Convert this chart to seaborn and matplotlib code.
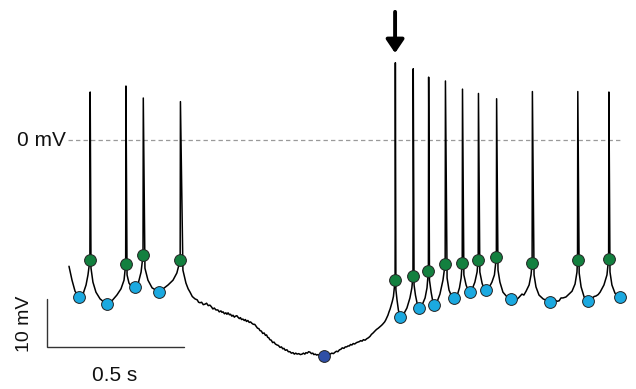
import matplotlib
matplotlib.use("Agg")
import matplotlib.pyplot as plt
import pandas as pd
import seaborn as sns

# ---- recorded membrane potential (time in ms, voltage in mV) ----
# spike thresholds (green), spike peaks, AHP troughs (light blue), deepest point (dark blue)
thr_t = [76, 206, 269, 404, 1185, 1250, 1306, 1367, 1429, 1487, 1553, 1683, 1848, 1961]
thr_v = [-25.0, -25.9, -24.0, -25.0, -29.2, -28.3, -27.3, -25.8, -25.6, -24.9, -24.4, -25.6, -24.9, -24.7]
peak_v = [10.0, 11.25, 8.75, 8.0, 16.1, 14.85, 13.1, 12.3, 10.6, 9.7, 8.6, 10.1, 10.1, 10.0]
trough_t = [36, 137, 241, 326, 1203, 1271, 1325, 1400, 1456, 1515, 1606, 1748, 1886, 2002]
trough_v = [-32.7, -34.2, -30.6, -31.6, -36.9, -34.9, -34.3, -32.9, -31.6, -31.3, -33.1, -33.75, -33.6, -32.8]
min_t = [928]
min_v = [-45.0]

# subthreshold trace between spikes
seg_t = [
    [0, 11, 22, 36, 51, 62, 69],
    [80, 87, 98, 113, 137, 156, 174, 189, 200],
    [211, 218, 225, 241, 251, 262],
    [276, 287, 302, 326, 342, 360, 378, 392],
    [414, 425, 433, 440, 448, 458, 466, 471, 476, 482, 488, 494, 500, 506, 512, 517,
     523, 528, 534, 541, 546, 552, 556, 560, 565, 570, 574, 578, 583, 587, 592, 596,
     601, 605, 610, 614, 619, 623, 627, 632, 637, 641, 645, 650, 655, 660, 665, 670,
     675, 680, 685, 690, 694, 699, 704, 709, 714, 718, 722, 726, 730, 735, 740, 745,
     750, 756, 761, 767, 772, 777, 781, 786, 792, 797, 803, 808, 814, 819, 824, 829,
     835, 841, 847, 852, 857, 861, 866, 871, 876, 881, 886, 890, 895, 900, 905, 911,
     916, 922, 928, 934, 940, 945, 949, 955, 961, 967, 972, 977, 983, 988, 993, 999,
     1004, 1009, 1014, 1019, 1023, 1028, 1033, 1038, 1045, 1050, 1055, 1060, 1065, 1070,
     1076, 1082, 1088, 1094, 1099, 1105, 1110, 1115, 1119, 1124, 1130, 1136, 1141, 1147,
     1151, 1155, 1159, 1163, 1167, 1170, 1175, 1179, 1182],
    [1188, 1192, 1197, 1203, 1214, 1228, 1239, 1246],
    [1254, 1259, 1265, 1271, 1283, 1294, 1301],
    [1310, 1316, 1321, 1325, 1337, 1348, 1359],
    [1374, 1381, 1390, 1400, 1410, 1419, 1425],
    [1435, 1443, 1450, 1456, 1464, 1475, 1483],
    [1493, 1501, 1508, 1515, 1526, 1537, 1546],
    [1559, 1566, 1577, 1592, 1606, 1621, 1628, 1635, 1646, 1653, 1661, 1672, 1679],
    [1690, 1697, 1708, 1723, 1748, 1757, 1766, 1773, 1781, 1788, 1795, 1806, 1817, 1828, 1839, 1846],
    [1854, 1861, 1872, 1886, 1894, 1901, 1908, 1915, 1923, 1930, 1944, 1955],
    [1966, 1973, 1984, 2002],
]
seg_v = [
    [-26.3, -29.2, -31.5, -32.7, -32.1, -30.2, -28.1],
    [-26.7, -29.6, -31.7, -33.1, -34.2, -33.5, -32.3, -31.0, -29.2],
    [-28.1, -29.8, -30.4, -30.6, -30.0, -27.5],
    [-26.7, -29.2, -30.8, -31.6, -31.0, -30.2, -29.2, -27.7],
    [-27.1, -29.8, -31.0, -31.7, -32.6, -33.1, -33.3, -33.8, -33.9, -33.8, -34.3, -34.2, -34.0, -34.5, -34.4, -34.7,
     -35.2, -35.0, -35.4, -35.4, -35.8, -35.6, -35.9, -35.8, -36.2, -36.0, -36.3, -36.0, -36.4, -36.3, -36.7, -36.5,
     -36.9, -36.7, -36.6, -36.9, -37.2, -37.0, -37.4, -37.3, -37.6, -37.4, -37.8, -37.6, -38.0, -37.9, -38.2, -38.4,
     -38.4, -38.8, -39.2, -39.3, -39.7, -39.8, -40.3, -40.2, -40.7, -40.6, -41.1, -41.2, -41.6, -41.7, -42.2, -42.1,
     -42.5, -42.7, -42.8, -43.2, -43.1, -43.5, -43.4, -43.8, -43.7, -44.1, -44.1, -44.4, -44.3, -44.6, -44.4, -44.6,
     -44.5, -44.7, -44.6, -44.4, -44.6, -44.3, -44.4, -44.1, -44.2, -44.5, -44.4, -44.7, -44.6, -44.8, -44.7, -44.9,
     -44.8, -45.0, -45.0, -44.9, -44.7, -44.8, -44.6, -44.4, -44.5, -44.2, -44.0, -44.1, -43.7, -43.6, -43.3, -43.4,
     -43.1, -43.1, -42.9, -42.9, -42.6, -42.7, -42.4, -42.5, -42.2, -42.1, -42.0, -41.8, -41.9, -41.6,
     -41.7, -41.4, -41.2, -40.9, -40.5, -40.2, -39.9, -39.6, -39.4, -39.2, -38.9, -38.6, -38.3, -37.9,
     -37.5, -37.0, -36.5, -35.8, -35.2, -34.6, -33.6, -32.6, -30.8],
    [-31.2, -33.3, -35.4, -36.9, -36.5, -35.0, -32.9, -30.8],
    [-30.2, -32.3, -34.0, -34.9, -34.4, -32.9, -30.8],
    [-29.2, -31.7, -33.3, -34.3, -33.8, -32.1, -29.2],
    [-28.75, -31.25, -32.5, -32.9, -32.5, -30.8, -28.75],
    [-28.1, -30.2, -31.25, -31.6, -31.25, -29.6, -27.5],
    [-27.5, -29.8, -31.0, -31.3, -30.8, -29.6, -28.1],
    [-27.1, -29.6, -31.7, -32.7, -33.1, -32.7, -33.2, -32.8, -32.1, -32.3, -31.5, -30.2, -28.1],
    [-28.1, -30.6, -32.3, -33.1, -33.75, -33.2, -33.3, -33.6, -33.5, -32.9, -32.9, -32.7, -32.1, -31.5, -30.0, -27.5],
    [-27.7, -30.6, -32.7, -33.6, -33.4, -33.1, -32.6, -32.5, -32.2, -31.7, -30.2, -28.1],
    [-27.5, -30.2, -31.9, -32.8],
]

# scale bars and reference level
bar_t0, bar_v0 = -81, -43.2
bar_ms, bar_mv = 500, 10
zero_mv = 0.0

# ---- assemble the full trace: subthreshold segments joined by spikes ----
trace_t, trace_v = [], []
for i, (st, sv) in enumerate(zip(seg_t, seg_v)):
    trace_t += st
    trace_v += sv
    if i < len(thr_t):
        trace_t += [thr_t[i], thr_t[i] + 1]
        trace_v += [thr_v[i], peak_v[i]]
trace = pd.DataFrame({"t": trace_t, "v": trace_v})

sns.set_theme(style="white")
plt.rcParams["font.family"] = ["Liberation Sans", "DejaVu Sans"]

fig = plt.figure(figsize=(6.36, 3.89), dpi=100)
ax = fig.add_axes([0, 0, 1, 1])
ax.set_xlim(-250.7, 2060.5)
ax.set_ylim(-51.87, 29.17)
ax.axis("off")

# 0 mV reference
ax.plot([-4, 2002], [zero_mv, zero_mv], color="#9a9a9a", lw=0.9,
        dashes=(3.5, 2.5), zorder=1)
ax.text(-11, zero_mv, "0 mV", ha="right", va="center", fontsize=15, color="#111111")

# voltage trace
sns.lineplot(data=trace, x="t", y="v", sort=False, estimator=None,
             color="black", lw=1.1, ax=ax, zorder=2)

# markers
dot_kw = dict(s=72, edgecolor="#222222", linewidth=0.7, zorder=3, ax=ax, legend=False)
sns.scatterplot(x=thr_t, y=thr_v, color="#13803f", **dot_kw)
sns.scatterplot(x=trough_t, y=trough_v, color="#1ba9e0", **dot_kw)
sns.scatterplot(x=min_t, y=min_v, color="#2f4fa6", **dot_kw)

# arrow marking the first spike of the rebound burst
ax.annotate("", xy=(thr_t[4], 18.1), xytext=(thr_t[4], 26.7),
            arrowprops=dict(arrowstyle="-|>,head_length=0.4,head_width=0.27",
                            color="black", lw=2.8, mutation_scale=20,
                            shrinkA=0, shrinkB=0))

# scale bars
ax.plot([bar_t0, bar_t0, bar_t0 + bar_ms], [bar_v0 + bar_mv, bar_v0, bar_v0],
        color="#333333", lw=1.0, solid_joinstyle="miter")
ax.text(bar_t0 - 79, bar_v0 + bar_mv / 2, "10 mV", rotation=90,
        ha="center", va="center", fontsize=14, color="#111111")
ax.text(bar_t0 + bar_ms / 2 - 2, -48.96, "0.5 s", ha="center", va="center",
        fontsize=15, color="#111111")

fig.savefig("out.png", dpi=100)
